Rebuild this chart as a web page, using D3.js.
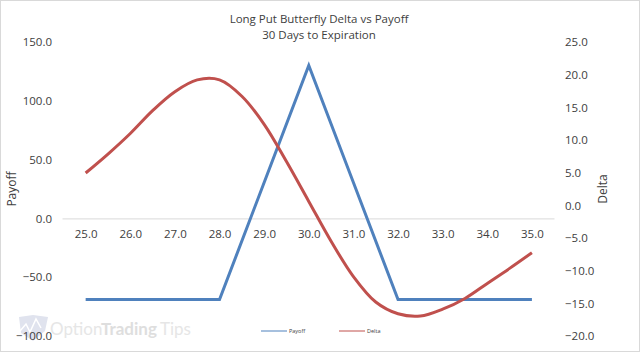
<!DOCTYPE html>
<html>
<head>
<meta charset="utf-8">
<style>
  html, body { margin: 0; padding: 0; background: #fff; }
  svg { display: block; }
  text { font-family: "Open Sans", "Noto Sans", sans-serif; fill: #404040; }
</style>
<script src="https://d3js.org/d3.v7.min.js"></script>
</head>
<body>
<svg></svg>
<script>
const strikes = [25, 26, 27, 28, 29, 30, 31, 32, 33, 34, 35];
const payoff = [-69, -69, -69, -69, 30.5, 130, 30.5, -69, -69, -69, -69];
const deltaStrikes = [25, 25.5, 26, 26.5, 27, 27.5, 28, 28.5, 29, 29.5, 30, 30.5, 31, 31.5, 32, 32.5, 33, 33.5, 34, 34.5, 35];
const delta = [4.95, 7.85, 11, 14.5, 17.4, 19.2, 19.2, 16.7, 12.4, 6.7, 0.6, -5.5, -10.9, -14.8, -16.6, -16.95, -15.9, -14.25, -11.95, -9.65, -7.25];
const payoffTicks = [150, 100, 50, 0, -50, -100];
const deltaTicks = [25, 20, 15, 10, 5, 0, -5, -10, -15, -20];
const titleLines = ['Long Put Butterfly Delta vs Payoff', '30 Days to Expiration'];
const seriesNames = ['Payoff', 'Delta'];
const seriesColors = ['#4f81bd', '#c0504d'];
const markWords = ['Option', 'Trading', 'Tips'];

const width = 640;
const height = 352;

const svg = d3.select('svg').attr('width', width).attr('height', height);

// chart frame
svg.append('rect')
    .attr('x', 0.5).attr('y', 0.5)
    .attr('width', width - 1).attr('height', height - 1)
    .attr('fill', '#fff')
    .attr('stroke', '#d9d9d9');

// category axis of the original, half a slot of padding each side
const x = d3.scaleLinear().domain([24.47, 35.495]).range([62, 554]);
const yPayoff = d3.scaleLinear().domain([-100, 150]).range([336, 42]);
const yDelta = d3.scaleLinear().domain([-20, 25]).range([336, 42]);

// watermark goes under everything
const mark = svg.append('g').attr('class', 'watermark');
mark.append('path')
    .attr('d', 'M19 317 L33 315 L48 317 L45 331 L33 341 L21 333 Z')
    .attr('fill', '#e0e3ee');
mark.append('path')
    .attr('d', 'M20 331 L26 324 L30 332 L36 319 L41 328')
    .attr('fill', 'none')
    .attr('stroke', '#fff')
    .attr('stroke-width', 1.5);
// each word on its own so the positions can follow the logo
const markX = [50, 101, 160];
mark.selectAll('.word')
    .data(markWords)
    .join('text')
    .attr('class', 'word')
    .attr('x', (d, i) => markX[i])
    .attr('y', 335)
    .attr('font-size', 17)
    .attr('font-weight', (d, i) => i === 1 ? 'bold' : 'normal')
    .style('font-family', 'Lato, sans-serif')
    .style('fill', (d, i) => i === 1 ? '#dedede' : '#e6e6e6')
    .text(d => d);

// zero line with category labels under it
const xAxis = svg.append('g')
    .attr('transform', `translate(0,${yPayoff(0)})`)
    .call(d3.axisBottom(x).tickValues(strikes).tickSize(0).tickPadding(11).tickFormat(d3.format('.1f')));
xAxis.select('.domain').attr('stroke', '#d9d9d9').attr('stroke-width', 1);

const leftAxis = svg.append('g')
    .attr('transform', 'translate(52,0)')
    .call(d3.axisLeft(yPayoff).tickValues(payoffTicks).tickSize(0).tickPadding(0).tickFormat(d3.format('.1f')));
leftAxis.select('.domain').remove();

const rightAxis = svg.append('g')
    .attr('transform', 'translate(565,0)')
    .call(d3.axisRight(yDelta).tickValues(deltaTicks).tickSize(0).tickPadding(0).tickFormat(d3.format('.1f')));
rightAxis.select('.domain').remove();

svg.selectAll('.tick text')
    .attr('font-size', 11.5)
    .style('font-family', '"Open Sans", sans-serif');

// series
const payoffLine = d3.line().x((d, i) => x(strikes[i])).y(d => yPayoff(d));
const deltaLine = d3.line().x((d, i) => x(deltaStrikes[i])).y(d => yDelta(d)).curve(d3.curveCatmullRom);

svg.append('path')
    .attr('d', payoffLine(payoff))
    .attr('fill', 'none')
    .attr('stroke', seriesColors[0])
    .attr('stroke-width', 3);
svg.append('path')
    .attr('d', deltaLine(delta))
    .attr('fill', 'none')
    .attr('stroke', seriesColors[1])
    .attr('stroke-width', 3);

// titles
svg.selectAll('.title')
    .data(titleLines)
    .join('text')
    .attr('class', 'title')
    .attr('x', 319)
    .attr('y', (d, i) => 23 + i * 16)
    .attr('text-anchor', 'middle')
    .attr('font-size', 11.5)
    .text(d => d);

svg.append('text')
    .attr('transform', 'translate(16,189) rotate(-90)')
    .attr('text-anchor', 'middle')
    .attr('font-size', 12)
    .text('Payoff');
svg.append('text')
    .attr('transform', 'translate(607,189) rotate(-90)')
    .attr('text-anchor', 'middle')
    .attr('font-size', 12)
    .text('Delta');

// tiny legend
const legendX = [261, 339];
const legend = svg.selectAll('.legend')
    .data(seriesNames)
    .join('g')
    .attr('class', 'legend')
    .attr('transform', (d, i) => `translate(${legendX[i]},331)`);
legend.append('line')
    .attr('x2', 26)
    .attr('stroke', (d, i) => seriesColors[i])
    .attr('stroke-width', 1);
legend.append('text')
    .attr('x', 28)
    .attr('y', 2)
    .attr('font-size', 5.5)
    .text(d => d);
</script>
</body>
</html>
